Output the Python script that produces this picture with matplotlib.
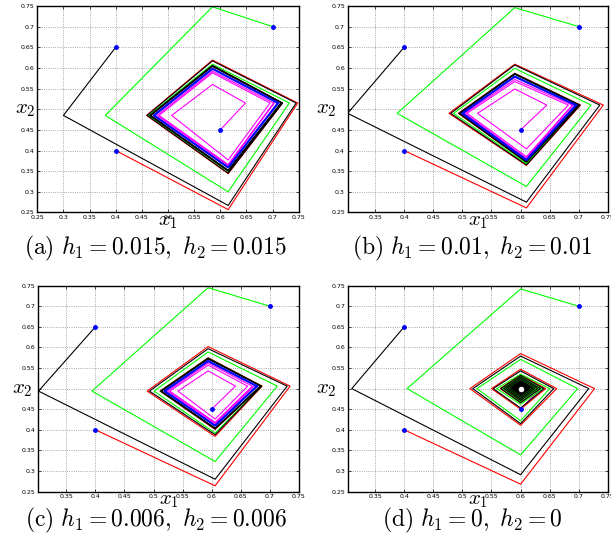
import numpy as np
import matplotlib.pyplot as plt
from matplotlib.ticker import FormatStrFormatter

plt.rcParams['mathtext.fontset'] = 'cm'
plt.rcParams['font.family'] = 'DejaVu Sans'

# ---------------------------------------------------------------- DATA
# initial points (blue dots)
starts_x = [0.4, 0.4, 0.7, 0.6]
starts_y = [0.4, 0.65, 0.7, 0.45]

# (a) h1 = h2 = 0.015
red_a = [(0.400, 0.400), (0.615, 0.257), (0.748, 0.515), (0.585, 0.619), (0.459, 0.485),
         (0.615, 0.344), (0.719, 0.515), (0.585, 0.606), (0.465, 0.485), (0.615, 0.350),
         (0.717, 0.515), (0.585, 0.604), (0.467, 0.485), (0.615, 0.352), (0.716, 0.515)]
black_a = [(0.400, 0.650), (0.300, 0.485), (0.615, 0.267), (0.745, 0.515), (0.585, 0.617),
           (0.460, 0.485), (0.615, 0.345), (0.719, 0.515), (0.585, 0.606), (0.465, 0.485),
           (0.615, 0.350), (0.717, 0.515), (0.585, 0.604), (0.467, 0.485), (0.615, 0.352),
           (0.716, 0.515)]
green_a = [(0.700, 0.700), (0.585, 0.748), (0.380, 0.485), (0.615, 0.300), (0.732, 0.515),
           (0.585, 0.609), (0.463, 0.485), (0.615, 0.349), (0.718, 0.515), (0.585, 0.604),
           (0.466, 0.485), (0.615, 0.352), (0.716, 0.515)]
magenta_a = [(0.600, 0.450), (0.648, 0.515), (0.585, 0.560), (0.507, 0.485), (0.615, 0.377),
             (0.695, 0.515), (0.585, 0.588), (0.483, 0.485), (0.615, 0.366), (0.702, 0.515),
             (0.585, 0.592), (0.479, 0.485), (0.615, 0.364), (0.703, 0.515)]
ring_a = [(0.7105, 0.515), (0.585, 0.598), (0.473, 0.485), (0.615, 0.359), (0.7105, 0.515)]

# (b) h1 = h2 = 0.01
red_b = [(0.400, 0.400), (0.610, 0.261), (0.742, 0.510), (0.590, 0.609), (0.477, 0.490),
         (0.610, 0.364), (0.703, 0.510), (0.590, 0.587), (0.493, 0.490), (0.610, 0.371),
         (0.700, 0.510), (0.590, 0.585), (0.495, 0.490), (0.610, 0.373), (0.699, 0.510)]
black_b = [(0.400, 0.650), (0.303, 0.490), (0.610, 0.275), (0.736, 0.510), (0.590, 0.607),
           (0.480, 0.490), (0.610, 0.365), (0.702, 0.510), (0.590, 0.586), (0.494, 0.490),
           (0.610, 0.372), (0.700, 0.510), (0.590, 0.585), (0.496, 0.490), (0.610, 0.373),
           (0.699, 0.510)]
green_b = [(0.700, 0.700), (0.590, 0.746), (0.388, 0.490), (0.610, 0.313), (0.721, 0.510),
           (0.590, 0.599), (0.485, 0.490), (0.610, 0.368), (0.701, 0.510), (0.590, 0.586),
           (0.495, 0.490), (0.610, 0.372), (0.699, 0.510), (0.590, 0.585), (0.496, 0.490)]
magenta_b = [(0.600, 0.450), (0.645, 0.510), (0.590, 0.549), (0.526, 0.490), (0.610, 0.404),
             (0.682, 0.510), (0.590, 0.567), (0.508, 0.490), (0.610, 0.385), (0.689, 0.510),
             (0.590, 0.572), (0.504, 0.490), (0.610, 0.381), (0.690, 0.510)]
ring_b = [(0.695, 0.510), (0.590, 0.579), (0.500, 0.490), (0.610, 0.377), (0.695, 0.510)]

# (c) h1 = h2 = 0.006
red_c = [(0.400, 0.400), (0.606, 0.264), (0.735, 0.506), (0.594, 0.602), (0.489, 0.494),
         (0.606, 0.384), (0.687, 0.506), (0.594, 0.575), (0.511, 0.494), (0.606, 0.401),
         (0.685, 0.506), (0.594, 0.573), (0.513, 0.494), (0.606, 0.403), (0.684, 0.506)]
black_c = [(0.400, 0.650), (0.302, 0.494), (0.606, 0.280), (0.730, 0.506), (0.594, 0.597),
           (0.493, 0.494), (0.606, 0.388), (0.686, 0.506), (0.594, 0.574), (0.512, 0.494),
           (0.606, 0.402), (0.685, 0.506), (0.594, 0.572), (0.514, 0.494), (0.606, 0.404),
           (0.684, 0.506)]
green_c = [(0.700, 0.700), (0.594, 0.745), (0.394, 0.494), (0.606, 0.323), (0.713, 0.506),
           (0.594, 0.589), (0.501, 0.494), (0.606, 0.392), (0.686, 0.506), (0.594, 0.574),
           (0.512, 0.494), (0.606, 0.403), (0.684, 0.506)]
magenta_c = [(0.600, 0.450), (0.641, 0.506), (0.594, 0.543), (0.542, 0.494), (0.606, 0.426),
             (0.662, 0.506), (0.594, 0.557), (0.528, 0.494), (0.606, 0.418), (0.670, 0.506),
             (0.594, 0.562), (0.524, 0.494), (0.606, 0.415), (0.673, 0.506)]
ring_c = [(0.678, 0.506), (0.594, 0.567), (0.519, 0.494), (0.606, 0.410), (0.678, 0.506)]

# (d) h1 = h2 = 0
red_d = [(0.400, 0.400), (0.600, 0.268), (0.727, 0.500), (0.600, 0.585), (0.513, 0.500),
         (0.600, 0.411), (0.662, 0.500), (0.600, 0.547), (0.550, 0.500), (0.600, 0.450),
         (0.643, 0.500), (0.600, 0.534), (0.565, 0.500), (0.600, 0.466), (0.633, 0.500),
         (0.600, 0.527), (0.572, 0.500), (0.600, 0.472), (0.625, 0.500), (0.600, 0.521),
         (0.578, 0.500), (0.600, 0.478), (0.618, 0.500), (0.600, 0.515), (0.584, 0.500),
         (0.600, 0.484), (0.612, 0.500), (0.600, 0.510), (0.589, 0.500), (0.600, 0.489),
         (0.607, 0.500), (0.600, 0.506), (0.593, 0.500), (0.600, 0.493), (0.604, 0.500)]
black_d = [(0.400, 0.650), (0.310, 0.500), (0.600, 0.291), (0.717, 0.500), (0.600, 0.579),
           (0.518, 0.500), (0.600, 0.415), (0.657, 0.500), (0.600, 0.543), (0.553, 0.500),
           (0.600, 0.453), (0.640, 0.500), (0.600, 0.532), (0.566, 0.500), (0.600, 0.466),
           (0.634, 0.500), (0.600, 0.528), (0.571, 0.500), (0.600, 0.471), (0.629, 0.500),
           (0.600, 0.524), (0.575, 0.500), (0.600, 0.475), (0.624, 0.500), (0.600, 0.520),
           (0.579, 0.500), (0.600, 0.479), (0.620, 0.500), (0.600, 0.517), (0.583, 0.500),
           (0.600, 0.483), (0.616, 0.500), (0.600, 0.514), (0.586, 0.500), (0.600, 0.486),
           (0.613, 0.500), (0.600, 0.511), (0.589, 0.500), (0.600, 0.489), (0.610, 0.500),
           (0.600, 0.508), (0.592, 0.500), (0.600, 0.492), (0.607, 0.500), (0.600, 0.506),
           (0.594, 0.500), (0.600, 0.494), (0.605, 0.500), (0.600, 0.504), (0.596, 0.500),
           (0.600, 0.496), (0.603, 0.500)]
green_d = [(0.700, 0.700), (0.600, 0.742), (0.405, 0.500), (0.600, 0.339), (0.698, 0.500),
           (0.600, 0.571), (0.525, 0.500), (0.600, 0.422), (0.650, 0.500), (0.600, 0.535),
           (0.559, 0.500), (0.600, 0.462), (0.638, 0.500), (0.600, 0.530), (0.568, 0.500),
           (0.600, 0.468), (0.632, 0.500), (0.600, 0.526), (0.573, 0.500), (0.600, 0.473),
           (0.626, 0.500), (0.600, 0.522), (0.577, 0.500), (0.600, 0.477), (0.622, 0.500),
           (0.600, 0.518), (0.581, 0.500), (0.600, 0.481), (0.618, 0.500), (0.600, 0.515),
           (0.585, 0.500), (0.600, 0.485), (0.614, 0.500), (0.600, 0.512), (0.588, 0.500),
           (0.600, 0.488), (0.611, 0.500), (0.600, 0.509), (0.591, 0.500), (0.600, 0.491),
           (0.608, 0.500), (0.600, 0.507), (0.593, 0.500), (0.600, 0.493), (0.606, 0.500)]
magenta_d = [(0.600, 0.450), (0.634, 0.500), (0.600, 0.526), (0.573, 0.500), (0.600, 0.473),
             (0.617, 0.500), (0.600, 0.513), (0.587, 0.500), (0.600, 0.487), (0.609, 0.500)]
center_d = (0.600, 0.500)

captions = [r"$\mathrm{(a)}\ h_1 = 0.015,\ h_2 = 0.015$",
            r"$\mathrm{(b)}\ h_1 = 0.01,\ h_2 = 0.01$",
            r"$\mathrm{(c)}\ h_1 = 0.006,\ h_2 = 0.006$",
            r"$\mathrm{(d)}\ h_1 = 0,\ h_2 = 0$"]
x_left = [0.25, 0.303, 0.302, 0.304]
x_ticks_a = [0.25, 0.3, 0.35, 0.4, 0.45, 0.5, 0.55, 0.6, 0.65, 0.7, 0.75]
x_ticks_bcd = [0.35, 0.4, 0.45, 0.5, 0.55, 0.6, 0.65, 0.7, 0.75]
y_ticks = [0.25, 0.3, 0.35, 0.4, 0.45, 0.5, 0.55, 0.6, 0.65, 0.7, 0.75]
# the 0.5 label sits under the x2 axis label in the original
y_tick_labels = ['0.25', '0.3', '0.35', '0.4', '0.45', '', '0.55', '0.6', '0.65', '0.7', '0.75']

panels = [(red_a, black_a, green_a, magenta_a, ring_a),
          (red_b, black_b, green_b, magenta_b, ring_b),
          (red_c, black_c, green_c, magenta_c, ring_c),
          (red_d, black_d, green_d, magenta_d, None)]

# axes boxes in figure fractions [left, bottom, width, height]
boxes = [[0.061, 0.608, 0.428, 0.381],
         [0.569, 0.608, 0.426, 0.381],
         [0.063, 0.093, 0.426, 0.380],
         [0.570, 0.093, 0.425, 0.380]]
# caption centres (figure fractions)
cap_pos = [(0.255, 0.542), (0.773, 0.542), (0.255, 0.039), (0.773, 0.039)]
ylab_x = [-0.006, -0.041, -0.022, -0.045]

MAGENTA = '#ff00ff'
GREEN = '#00ff00'

fig = plt.figure(figsize=(6.11, 5.42), dpi=100)

for i, (red, black, green, magenta, ring) in enumerate(panels):
    ax = fig.add_axes(boxes[i])
    lw = 0.8
    for path, col in [(magenta, MAGENTA), (red, 'r'), (green, GREEN), (black, 'k')]:
        p = np.array(path)
        ax.plot(p[:, 0], p[:, 1], color=col, lw=lw)
    if ring is not None:
        p = np.array(ring)
        ax.plot(p[:, 0], p[:, 1], color='b', lw=1.6)
    else:
        ax.plot(center_d[0], center_d[1], 'o', color='w', ms=3, mec='w', zorder=4)
    ax.plot(starts_x, starts_y, 'o', color='b', ms=2.5, mec='b', zorder=5)

    ax.set_xlim(x_left[i], 0.75)
    ax.set_ylim(0.25, 0.75)
    ax.set_xticks(x_ticks_a if i == 0 else x_ticks_bcd)
    ax.set_yticks(y_ticks)
    ax.set_yticklabels(y_tick_labels)
    ax.xaxis.set_major_formatter(FormatStrFormatter('%g'))
    ax.tick_params(direction='in', top=True, right=True, length=2.5, width=0.5,
                   labelsize=4.5, pad=2)
    ax.grid(True, linestyle=':', color='0.55', lw=0.6)
    for s in ax.spines.values():
        s.set_linewidth(1.0)

    ax.set_xlabel(r"$x_1$", fontsize=15, labelpad=-7)
    ax.set_ylabel(r"$x_2$", fontsize=15, rotation=0, ha='right', va='center')
    ax.yaxis.set_label_coords(ylab_x[i], 0.5)

    fig.text(cap_pos[i][0], cap_pos[i][1], captions[i], fontsize=17,
             ha='center', va='center')

fig.savefig("out.png", dpi=100)
